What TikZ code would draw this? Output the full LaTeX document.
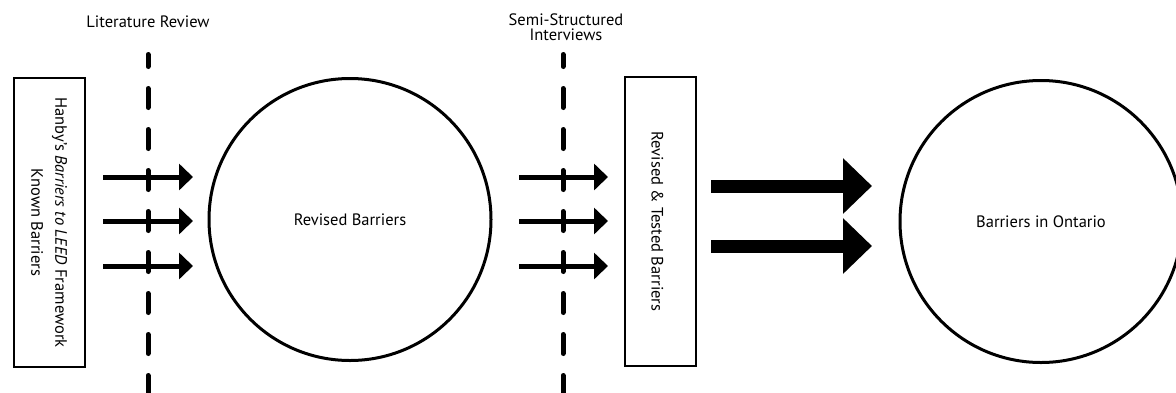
\documentclass[tikz,border=0pt]{standalone}
\usepackage{fontspec}
\setmainfont{PT Sans}
\usetikzlibrary{arrows.meta}
\begin{document}
\begin{tikzpicture}[x=1pt,y=-1pt,
  stage/.style={draw,line width=2pt,minimum width=71pt,minimum height=289pt,inner sep=0pt},
  pool/.style={draw,circle,line width=3pt,minimum size=282pt,inner sep=0pt,font=\fontsize{16.5}{18}\selectfont},
  label/.style={font=\fontsize{16.5}{14.5}\selectfont,align=center,inner sep=0pt},
  sidetext/.style={font=\fontsize{16.5}{24}\selectfont,align=center,rotate=-90,inner sep=0pt},
  divider/.style={line width=5pt,line cap=round,dash pattern=on 19pt off 22pt,dash phase=7pt},
  thin/.style={line width=5pt,-{Triangle[length=14pt,width=26pt]}},
  thick/.style={line width=13pt,-{Triangle[length=29pt,width=54pt]}}]
\useasboundingbox (0,0) rectangle (1176,392);

% source framework and first pool of barriers
\node[stage] (known) at (49,222.5) {};
\node[sidetext] at (known.center) {Hanby’s \textit{Barriers to LEED} Framework\\Known Barriers};
\node[pool] (revised) at (350,219.5) {Revised Barriers};

% tested barriers and final pool
\node[stage] (tested) at (660.5,221.5) {};
\node[sidetext] at ([xshift=-3pt]tested.center) {Revised \& Tested Barriers};
\node[pool] (ontario) at (1041,221.5) {Barriers in Ontario};

% phase labels and dividers
\node[label,anchor=base] (lit) at (148,27) {Literature Review};
\node[label] (ssi) at (566,27) {Semi-Structured\\Interviews};
\coordinate (litTop) at (148,54.5);
\coordinate (litBot) at (148,395);
\coordinate (ssiTop) at (563,54.5);
\coordinate (ssiBot) at (563,395);
\draw[divider] (litTop) -- (litBot);
\draw[divider] (ssiTop) -- (ssiBot);

% arrows crossing the literature review
\foreach \i/\y in {1/177,2/221,3/266}{
  \coordinate (a\i) at (103,\y);
  \coordinate (b\i) at (193,\y);
  \draw[thin] (a\i) -- (b\i);
}
% arrows crossing the interviews
\foreach \i/\y in {1/177,2/221,3/266}{
  \coordinate (c\i) at (519,\y);
  \coordinate (d\i) at (608,\y);
  \draw[thin] (c\i) -- (d\i);
}
% arrows into the Ontario pool
\foreach \i/\y in {1/186,2/246}{
  \coordinate (e\i) at (711,\y);
  \coordinate (f\i) at (872,\y);
  \draw[thick] (e\i) -- (f\i);
}
\end{tikzpicture}
\end{document}
